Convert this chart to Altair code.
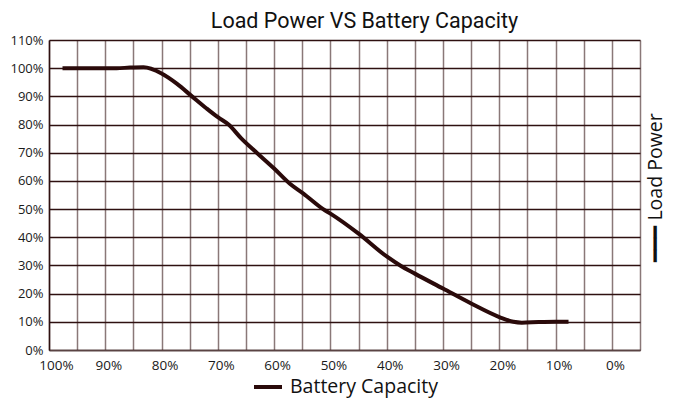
import altair as alt
import pandas as pd

# Battery capacity (%) and load power (%)
capacity = [97.6, 92, 88, 85.6, 83.2, 80, 77.3, 74.6, 72, 70, 68.1, 65.8, 63.1, 60,
            57.2, 54.8, 51.3, 50, 45, 40, 37.6, 35, 30, 25, 20, 17.5, 16, 13, 10, 7.7]
load_power = [100, 100, 100, 100.2, 100.3, 98.1, 94.5, 90, 85.7, 82.6, 80, 75, 70, 64.4,
              59, 55.5, 50, 48.4, 41.3, 33.2, 30, 27.1, 21.8, 16.5, 11.7, 10, 9.7, 9.9, 10, 10]
series = ["Battery Capacity"] * len(capacity)

x_grid_values = list(range(-5, 101, 5))
y_grid_values = list(range(0, 111, 10))

df = pd.DataFrame({"capacity": capacity, "load": load_power, "series": series})

FONT = "Open Sans"

line = alt.Chart(df).mark_line(
    strokeWidth=4, interpolate="monotone"
).encode(
    x=alt.X(
        "capacity:Q",
        scale=alt.Scale(domain=[-5, 100], reverse=True, nice=False, zero=False),
        axis=alt.Axis(
            values=x_grid_values,
            labelExpr="(datum.value % 10 == 0 && datum.value >= 0) ? datum.value + '%' : ''",
            labelOverlap=False,
            labelFlush=False,
            ticks=False,
            labelPadding=8,
            labelFontSize=13.5,
            labelFont=FONT,
            labelColor="#1a1a1a",
            labelOffset={"condition": {"test": "datum.value == 100", "value": 7}, "value": 3},
            grid=True,
            gridColor="#8a7878",
            gridWidth=1.5,
            domainColor="#5a4444",
            domainWidth=1.5,
            title=None,
        ),
    ),
    y=alt.Y(
        "load:Q",
        scale=alt.Scale(domain=[0, 110], nice=False, zero=False),
        axis=alt.Axis(
            values=y_grid_values,
            labelExpr="datum.value + '%'",
            labelOverlap=False,
            labelFlush=False,
            ticks=False,
            labelPadding=6,
            labelFontSize=13,
            labelFont=FONT,
            labelColor="#1a1a1a",
            grid=True,
            gridColor="#2e1010",
            gridWidth=1.5,
            domainColor="#2e1010",
            domainWidth=1.5,
            title="━━━  Load Power",
            titleFont=FONT,
            titleFontSize=19.5,
            titleFontWeight="normal",
            titleColor="#111111",
            titleAngle=270,
            titleAlign="center",
            titleBaseline="middle",
            titleX=606,
            titleY=147,
        ),
    ),
    color=alt.Color(
        "series:N",
        scale=alt.Scale(range=["#2a0a0a"]),
        legend=alt.Legend(
            title=None,
            orient="none",
            legendX=203,
            legendY=331,
            symbolType="stroke",
            symbolStrokeWidth=4,
            symbolSize=784,
            labelFont=FONT,
            labelFontSize=19.5,
            labelColor="#111111",
            labelOffset=6,
        ),
    ),
)

chart = line.properties(
    width=591,
    height=310,
    autosize=alt.AutoSizeParams(type="none"),
    padding={"left": 41, "top": 32, "right": 27, "bottom": 48},
    title=alt.TitleParams(
        "Load Power VS Battery Capacity",
        font="Roboto",
        fontSize=21.5,
        fontWeight="normal",
        color="#111111",
        anchor="middle",
        baseline="alphabetic",
        dx=20,
        dy=21,
        offset=6,
    ),
).configure_view(stroke=None).configure(background="white")

chart.save("out.html", embed_options={"renderer": "svg", "actions": False})
